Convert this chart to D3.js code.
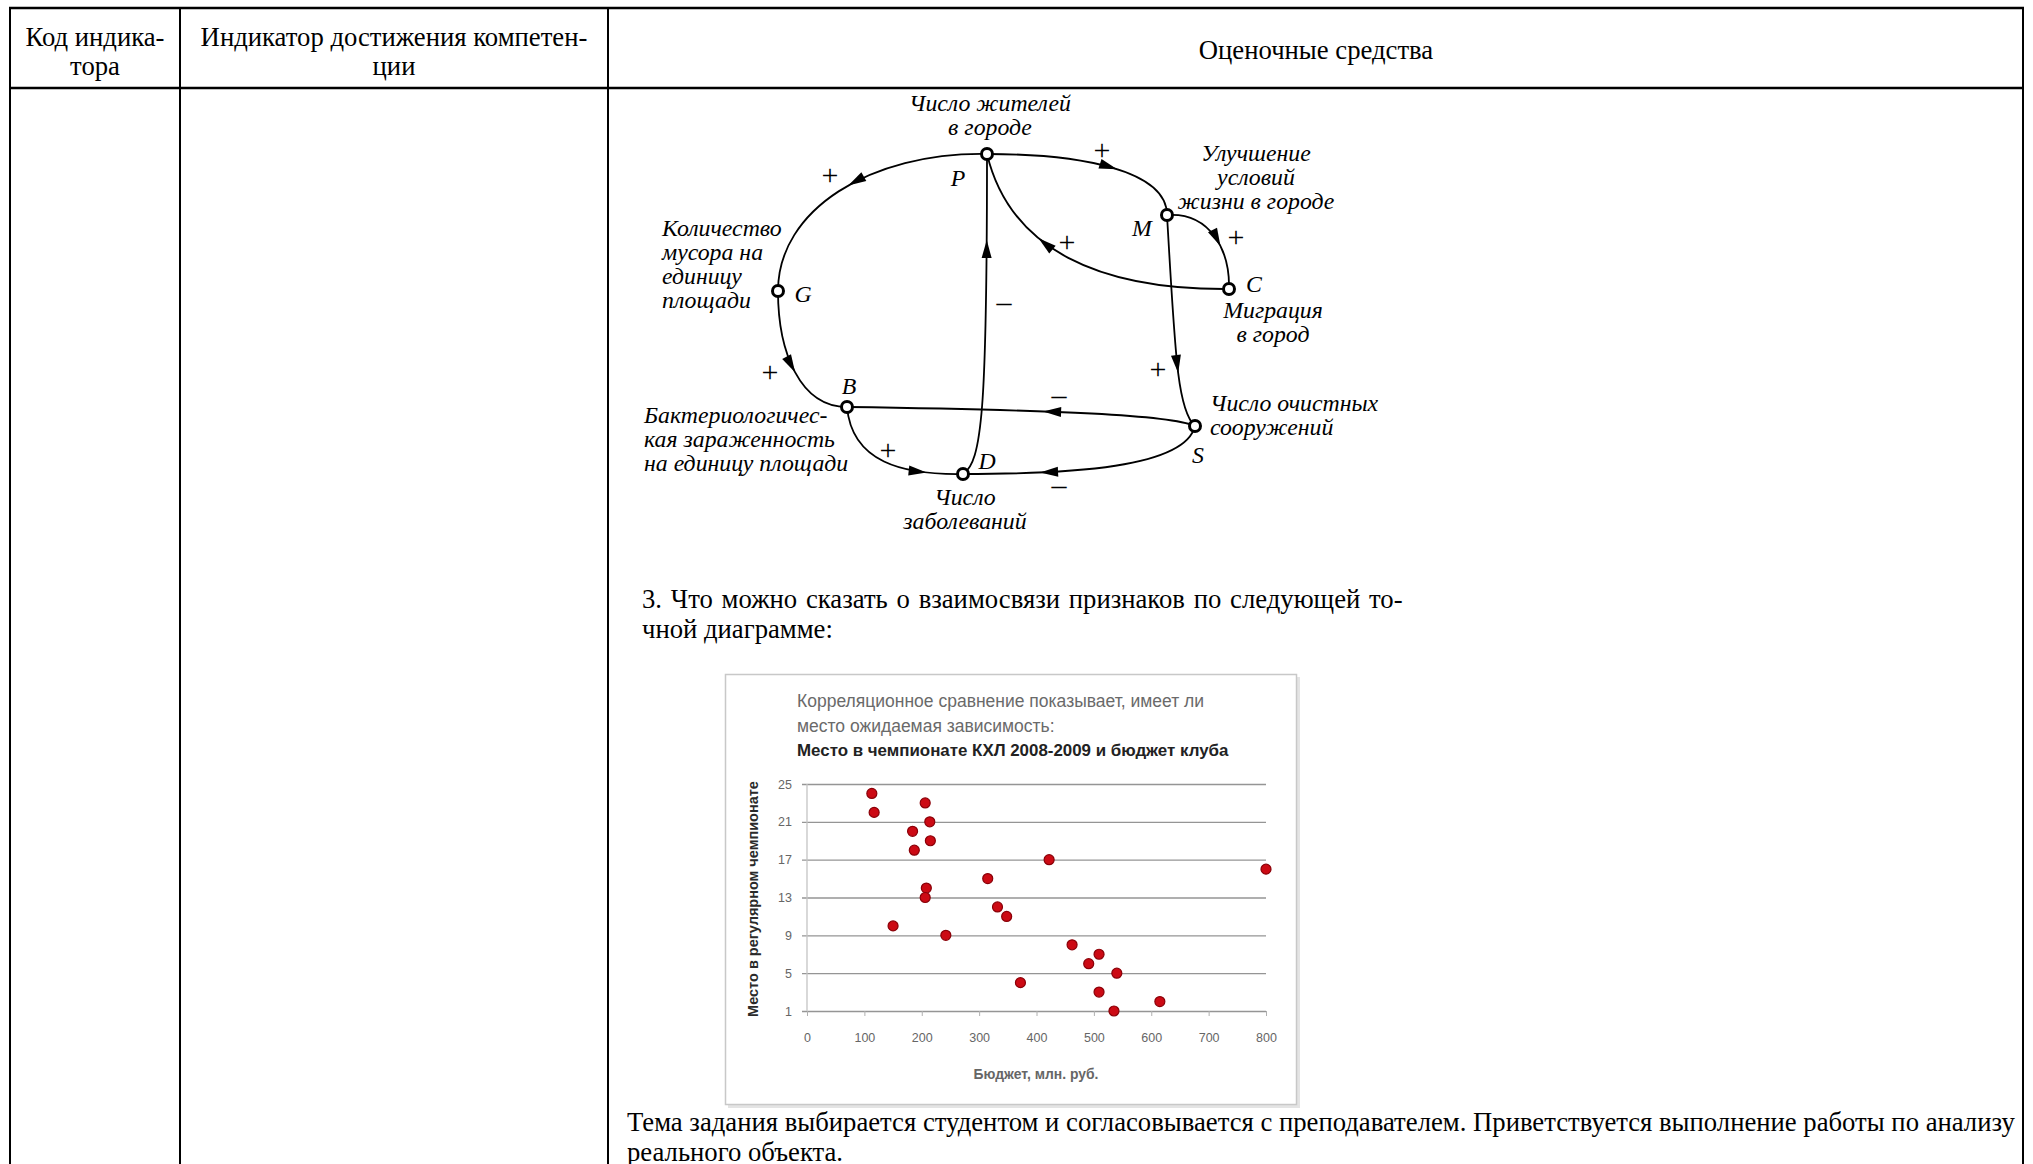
<!DOCTYPE html>
<html>
<head lang="ru">
    <meta charset="UTF-8">
    <script type="text/javascript" src="https://cdn.jsdelivr.net/npm/d3@7/dist/d3.min.js"></script>
    <title></title>
</head>
<body style="margin:0;background:#fff">
<style>
    svg text{ font-family: "Liberation Serif", "Times New Roman", serif; }
    .doc{ font-size:26.7px; fill:#000; }
    .lbl{ font-size:23.8px; font-style:italic; fill:#000; }
    .sign{ font-size:30px; fill:#000; }
    .ch text{ font-family: "Liberation Sans", Arial, sans-serif; }
</style>
<script type="text/javascript">
// данные точечной диаграммы (бюджет клуба, млн. руб. / место в чемпионате)
var budget = [113, 117, 206, 214, 184, 215, 187, 422, 800, 315, 208, 206,
              332, 348, 150, 242, 462, 509, 491, 540, 372, 509, 615, 535];
var place  = [24, 22, 23, 21, 20, 19, 18, 17, 16, 15, 14, 13,
              12, 11, 10, 9, 8, 7, 6, 5, 4, 3, 2, 1];
var xTicks = [0, 100, 200, 300, 400, 500, 600, 700, 800];
var yTicks = [1, 5, 9, 13, 17, 21, 25];
var chartTitle = ["Корреляционное сравнение показывает, имеет ли",
                  "место ожидаемая зависимость:"];
var chartTitleBold = "Место в чемпионате КХЛ 2008-2009 и бюджет клуба";
var xTitle = "Бюджет, млн. руб.";
var yTitle = "Место в регулярном чемпионате";

// схема причинно-следственных связей
var nodeIds = ["P", "M", "C", "G", "B", "S", "D"];
var nodeX   = [347, 527, 589, 138, 207, 555, 323];
var nodeY   = [64, 125, 199, 201, 317, 336, 384];
// связи: откуда, куда, две опорные точки кривой, где стоит стрелка
var edges = [
    ["P", "G", [230, 62, 138, 120], [209, 97]],
    ["G", "B", [138, 262, 160, 317], [154, 283]],
    ["B", "D", [212, 372, 262, 385], [286, 386]],
    ["D", "P", [342, 372, 347, 320], [348, 150]],
    ["P", "M", [440, 64, 527, 80], [477, 80]],
    ["M", "C", [570, 122, 590, 160], [583, 155]],
    ["C", "P", [460, 200, 370, 160], [398, 149]],
    ["M", "S", [535, 260, 537, 320], [539, 283]],
    ["S", "B", [530, 325, 420, 320], [403, 322]],
    ["S", "D", [545, 378, 430, 384], [400, 384]]
];
var signs  = ["+", "+", "+", "+", "–", "+", "+", "–", "+", "–"];
var signX  = [190, 462, 427, 596, 364, 130, 518, 419, 248, 419];
var signY  = [84, 59, 151, 146, 211, 281, 278, 304, 359, 394];
// подписи узлов
var letters = [["P", 318, 96], ["M", 502, 146], ["C", 614, 202], ["G", 163, 212],
               ["B", 209, 304], ["S", 558, 373], ["D", 347, 379]];
// подписи: [x, y, выравнивание, строки]
var captions = [
    [350, 21, "middle", ["Число жителей", "в городе"]],
    [616, 71, "middle", ["Улучшение", "условий", "жизни в городе"]],
    [633, 228, "middle", ["Миграция", "в город"]],
    [22, 146, "start", ["Количество", "мусора на", "единицу", "площади"]],
    [4, 333, "start", ["Бактериологичес-", "кая зараженность", "на единицу площади"]],
    [325, 415, "middle", ["Число", "заболеваний"]],
    [570, 321, "start", ["Число очистных", "сооружений"]]
];

var W = 2033, H = 1164;
var svg = d3.select("body").append("svg")
        .attr("width", W)
        .attr("height", H);

// ---- таблица ----
var colX = [10, 180, 608, 2023];
colX.forEach(function (x) {
    svg.append("line").attr("x1", x).attr("x2", x).attr("y1", 7).attr("y2", H)
        .attr("stroke", "#000").attr("stroke-width", 2);
});
[8, 88].forEach(function (y) {
    svg.append("line").attr("x1", 9).attr("x2", 2024).attr("y1", y).attr("y2", y)
        .attr("stroke", "#000").attr("stroke-width", 2.5);
});
function lines(x, y, arr, cls, anchor, step) {
    var t = svg.append("text").attr("class", cls).attr("text-anchor", anchor || "start");
    arr.forEach(function (s, i) {
        t.append("tspan").attr("x", x).attr("y", y + i * step).text(s);
    });
    return t;
}
lines(95, 46, ["Код индика-", "тора"], "doc", "middle", 29);
lines(394, 46, ["Индикатор достижения компетен-", "ции"], "doc", "middle", 29);
lines(1316, 59, ["Оценочные средства"], "doc", "middle", 29);
var q3 = lines(642, 608, ["3. Что можно сказать о взаимосвязи признаков по следующей то-",
                 "чной диаграмме:"], "doc", "start", 30);
q3.select("tspan").attr("word-spacing", 2.1);   // строка выровнена по ширине
lines(627, 1131, ["Тема задания выбирается студентом и согласовывается с преподавателем. Приветствуется выполнение работы по анализу",
                  "реального объекта."], "doc", "start", 30);

// ---- схема ----
var dx = d3.scaleLinear().domain([0, 740]).range([640, 1380]);
var dy = d3.scaleLinear().domain([0, 450]).range([90, 540]);
var g = svg.append("g");
function pos(id) {
    var i = nodeIds.indexOf(id);
    return [dx(nodeX[i]), dy(nodeY[i])];
}
edges.forEach(function (e) {
    var a = pos(e[0]), b = pos(e[1]), c = e[2];
    var p = d3.path();
    p.moveTo(a[0], a[1]);
    p.bezierCurveTo(dx(c[0]), dy(c[1]), dx(c[2]), dy(c[3]), b[0], b[1]);
    var el = g.append("path").attr("d", p.toString())
        .attr("fill", "none").attr("stroke", "#000").attr("stroke-width", 1.8);
    // стрелка в ближайшей к заданной точке кривой
    var node = el.node(), L = node.getTotalLength();
    var tx = dx(e[3][0]), ty = dy(e[3][1]), best = 0, bd = 1e9;
    for (var s = 0; s <= L; s += 0.5) {
        var q = node.getPointAtLength(s);
        var d = (q.x - tx) * (q.x - tx) + (q.y - ty) * (q.y - ty);
        if (d < bd) { bd = d; best = s; }
    }
    var p0 = node.getPointAtLength(Math.max(0, best - 1));
    var p1 = node.getPointAtLength(Math.min(L, best + 1));
    var ang = Math.atan2(p1.y - p0.y, p1.x - p0.x) * 180 / Math.PI;
    var tip = node.getPointAtLength(best);
    g.append("path").attr("d", "M0,0L-18,-5L-18,5Z")
        .attr("transform", "translate(" + tip.x + "," + tip.y + ") rotate(" + ang + ")")
        .attr("fill", "#000");
});
nodeIds.forEach(function (id) {
    var p = pos(id);
    g.append("circle").attr("cx", p[0]).attr("cy", p[1]).attr("r", 5.5)
        .attr("fill", "#fff").attr("stroke", "#000").attr("stroke-width", 3);
});
letters.forEach(function (l) {
    g.append("text").attr("class", "lbl").attr("x", dx(l[1])).attr("y", dy(l[2]))
        .attr("text-anchor", "middle").text(l[0]);
});
captions.forEach(function (c) {
    lines(dx(c[0]), dy(c[1]), c[3], "lbl", c[2], 24);
});
signs.forEach(function (s, i) {
    g.append("text").attr("class", "sign").attr("x", dx(signX[i])).attr("y", dy(signY[i]))
        .attr("text-anchor", "middle").attr("dominant-baseline", "central").text(s);
});

// ---- точечная диаграмма ----
var ch = svg.append("g").attr("class", "ch");
ch.append("rect").attr("x", 728).attr("y", 677).attr("width", 572).attr("height", 431)
    .attr("fill", "#e4e4e4");
ch.append("rect").attr("x", 725.5).attr("y", 674.5).attr("width", 571).attr("height", 430)
    .attr("fill", "#fff").attr("stroke", "#c8c8c8").attr("stroke-width", 1.5);

var x = d3.scaleLinear().domain([0, 800]).range([807, 1266]);
var y = d3.scaleLinear().domain([1, 25]).range([1011, 784]);

chartTitle.forEach(function (s, i) {
    ch.append("text").attr("x", 797).attr("y", 707 + i * 25).attr("font-size", 17.5)
        .attr("fill", "#6a6a6a").text(s);
});
ch.append("text").attr("x", 797).attr("y", 756).attr("font-size", 16.9)
    .attr("font-weight", "bold").attr("fill", "#222").text(chartTitleBold);

var yAxis = d3.axisLeft(y).tickValues(yTicks).tickSize(-(x(800) - x(0)))
    .tickSizeOuter(0).tickPadding(15).tickFormat(d3.format("d"));
var ya = ch.append("g").attr("transform", "translate(" + x(0) + ",0)").call(yAxis);
ya.select(".domain").remove();
ya.selectAll(".tick line").attr("stroke", "#959595").attr("stroke-width", 1.3)
    .attr("x1", -5);
ya.selectAll(".tick text").attr("font-size", 12.5).attr("fill", "#666");

var xAxis = d3.axisBottom(x).tickValues(xTicks).tickSize(5).tickSizeOuter(0).tickPadding(17);
var xa = ch.append("g").attr("transform", "translate(0," + y(1) + ")").call(xAxis);
xa.select(".domain").remove();
xa.selectAll(".tick line").attr("stroke", "#b0b0b0");
xa.selectAll(".tick text").attr("font-size", 12.5).attr("fill", "#666");
ch.append("line").attr("x1", x(0)).attr("x2", x(0)).attr("y1", y(25)).attr("y2", y(1))
    .attr("stroke", "#c4c4c4").attr("stroke-width", 1.3);

ch.append("text").attr("x", 1036).attr("y", 1079).attr("text-anchor", "middle")
    .attr("font-size", 13.9).attr("font-weight", "bold").attr("fill", "#666").text(xTitle);
ch.append("text").attr("transform", "translate(758,899) rotate(-90)")
    .attr("text-anchor", "middle").attr("font-size", 14.5).attr("font-weight", "bold")
    .attr("fill", "#2a2a2a").text(yTitle);

ch.selectAll("circle.pt").data(budget).enter().append("circle")
    .attr("class", "pt")
    .attr("cx", function (d) { return x(d); })
    .attr("cy", function (d, i) { return y(place[i]); })
    .attr("r", 5)
    .attr("fill", "#cc0a14")
    .attr("stroke", "#8a0008")
    .attr("stroke-width", 1.2);
</script>
</body>
</html>
